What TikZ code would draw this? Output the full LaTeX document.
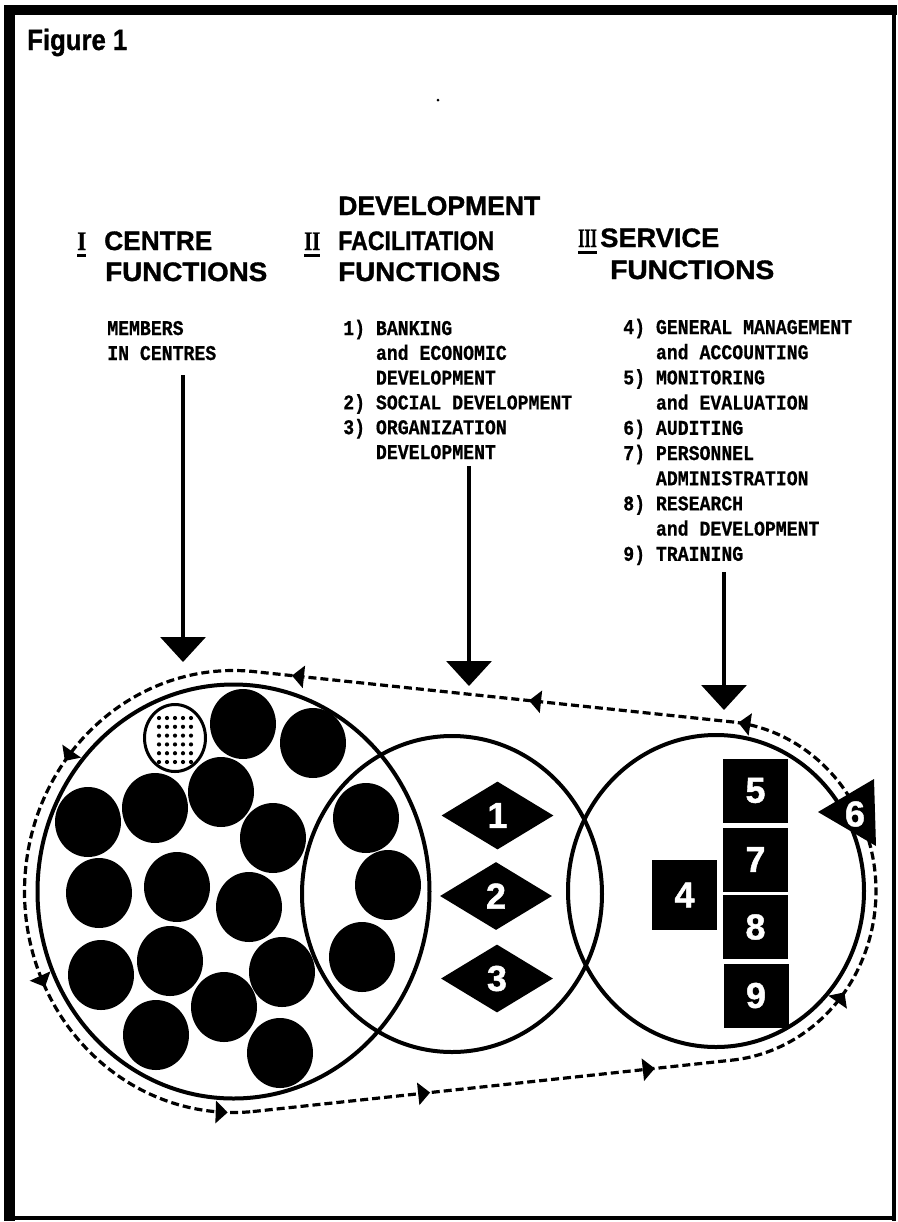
\documentclass[tikz,border=0pt]{standalone}
\usepackage{fontspec}
\usepackage{graphicx}
\setmainfont{Liberation Sans}
\newfontfamily\headfont{Liberation Sans Bold}[FakeBold=1.2]
\newfontfamily\typefont{Liberation Mono Bold}[FakeStretch=0.865,FakeBold=0.6]
\newfontfamily\romanfont{Liberation Serif Bold}[FakeBold=1]
\usetikzlibrary{shapes.geometric,arrows.meta,decorations.markings}

% set a line of text to a given width (horizontal scaling only)
\newsavebox\fitbox
\newcommand\fitwidth[2]{\sbox\fitbox{#2}\pgfmathsetmacro\fitratio{(#1)/(\the\wd\fitbox)}\scalebox{\fitratio}[1]{\usebox\fitbox}}
% underlined roman numeral of a given width
\newcommand\ulroman[2]{\sbox\fitbox{\fitwidth{#1}{#2}}\rlap{\raisebox{-5.2pt}{\rule{\wd\fitbox}{2.3pt}}}\usebox\fitbox}

\begin{document}
\begin{tikzpicture}[x=0.75pt,y=-0.75pt,
  title/.style={font=\headfont\fontsize{22}{26}\selectfont,anchor=base west,inner sep=0pt},
  head/.style={font=\headfont\fontsize{20}{24}\selectfont,anchor=base west,inner sep=0pt},
  roman/.style={font=\romanfont\fontsize{20}{24}\selectfont,anchor=base west,inner sep=0pt},
  listtext/.style={font=\typefont\fontsize{15.75}{18}\selectfont,anchor=base west,inner sep=0pt},
  ring/.style={draw,ellipse,line width=3pt,inner sep=0pt},
  member/.style={fill,ellipse,inner sep=0pt,minimum width=49.5pt,minimum height=52.5pt},
  task/.style={diamond,fill,text=white,inner sep=0pt,minimum width=84pt,minimum height=51pt,
    font=\headfont\fontsize{27}{30}\selectfont},
  duty/.style={rectangle,fill,text=white,inner sep=0pt,minimum width=48.75pt,minimum height=48pt,
    font=\headfont\fontsize{27}{30}\selectfont},
  feed/.style={line width=2.6pt,-{Triangle[width=33.75pt,length=18.75pt]}},
  loopline/.style={line width=2.4pt,dash pattern=on 6pt off 3pt},
  flowtip/.tip={Triangle[width=16.5pt,length=9pt]},
]
\useasboundingbox (0,0) rectangle (897,1222);

% frame
\fill (4,5) rectangle (897,15);
\fill (4,5) rectangle (15,1221);
\fill (892,5) rectangle (896,1221);
\fill (4,1216) rectangle (896,1220);

\node[title] (fig) at (27,50) {\fitwidth{75pt}{Figure 1}};
\fill (438,100) circle (1.5);

% column headings
\node[roman] (r1) at (77,250) {\ulroman{6.75pt}{I}};
\node[head] (h1a) at (104,250) {\fitwidth{81pt}{CENTRE}};
\node[head] (h1b) at (105,281) {\fitwidth{121.5pt}{FUNCTIONS}};

\node[roman] (r2) at (304,250) {\ulroman{12pt}{II}};
\node[head] (h2a) at (338,215) {\fitwidth{151.5pt}{DEVELOPMENT}};
\node[head] (h2b) at (338,250) {\fitwidth{117pt}{FACILITATION}};
\node[head] (h2c) at (338,281) {\fitwidth{121.5pt}{FUNCTIONS}};

\node[roman] (r3) at (578,247) {\ulroman{14pt}{III}};
\node[head] (h3a) at (600,247) {\fitwidth{89.25pt}{SERVICE}};
\node[head] (h3b) at (610,279) {\fitwidth{123pt}{FUNCTIONS}};

% function lists
\node[listtext] (c1l1) at (107,335) {MEMBERS};
\node[listtext] (c1l2) at (107,360) {IN CENTRES};

\foreach \t [count=\k] in {1) BANKING,\phantom{1) }and ECONOMIC,\phantom{1) }DEVELOPMENT,
    2) SOCIAL DEVELOPMENT,3) ORGANIZATION,\phantom{3) }DEVELOPMENT}
  \node[listtext] (c2l\k) at (343,{335+24.8*(\k-1)}) {\t};

\foreach \t [count=\k] in {4) GENERAL MANAGEMENT,\phantom{4) }and ACCOUNTING,5) MONITORING,
    \phantom{5) }and EVALUATION,6) AUDITING,7) PERSONNEL,\phantom{7) }ADMINISTRATION,
    8) RESEARCH,\phantom{8) }and DEVELOPMENT,9) TRAINING}
  \node[listtext] (c3l\k) at (623,{334+25.2*(\k-1)}) {\t};
\fill (803,408) circle (1.5);

% the three rings
\node[ring,minimum width=294pt,minimum height=310.5pt] (centreC) at (233.5,891.5) {};
\node[ring,minimum width=225pt,minimum height=237pt] (devC) at (452,894) {};
\node[ring,minimum width=222pt,minimum height=234pt] (servC) at (716,891) {};

% members in centres
\node[draw,ellipse,line width=2.25pt,inner sep=0pt,minimum width=45.75pt,minimum height=50.25pt] (lead) at (175,738) {};
\foreach \i in {0,...,4}
  \foreach \j in {0,...,5}
    \fill (159+8*\i,718+8.8*\j) circle (2.1);
\foreach \p [count=\k] in {(243,724),(313,743),(221,792),(155,808),(88,822),(273,838),
    (366,818),(388,885),(99,893),(177,887),(249,907),(362,957),(101,975),(170,961),
    (282,972),(224,1007),(156,1035),(280,1053)}
  \node[member] (m\k) at \p {};

% development facilitation functions
\node[task] (d1) at (497.5,815.5) {1};
\node[task] (d2) at (496,896) {2};
\node[task] (d3) at (497,978.5) {3};

% service functions
\node[duty] (s5) at (755.5,790.5) {5};
\node[duty] (s7) at (755.5,859.5) {7};
\node[duty] (s8) at (755.5,927) {8};
\node[duty] (s9) at (756,995.5) {9};
\node[duty,minimum height=52.5pt] (s4) at (684.5,895) {4};

% inputs into the rings
\coordinate (f1s) at (183,375);
\coordinate (f1e) at (183,662);
\coordinate (f2s) at (469,466);
\coordinate (f2e) at (469,686);
\coordinate (f3s) at (724,572);
\coordinate (f3e) at (724,710);
\draw[feed] (f1s) -- (f1e);
\draw[feed] (f2s) -- (f2e);
\draw[feed] (f3s) -- (f3e);

% auditing loop around the rings
\coordinate (lp0) at ([shift={(-33:160 and 170)}]servC.center);
\coordinate (lpA) at ([shift={(-83.5:160 and 170)}]servC.center);
\coordinate (lpB) at ([shift={(-83.5:209 and 221)}]centreC.center);
\coordinate (lpC) at ([shift={(84.7:209 and 221)}]centreC.center);
\coordinate (lpD) at ([shift={(84.7:160 and 170)}]servC.center);

\draw[loopline,postaction=decorate,decoration={markings,
    mark=at position 0.97 with {\arrow{flowtip}}}]
  (lp0) arc[start angle=-33,end angle=-83.5,x radius=160,y radius=170];
\draw[loopline,postaction=decorate,decoration={markings,
    mark=at position 0.43 with {\arrow{flowtip}},
    mark=at position 0.927 with {\arrow{flowtip}}}]
  (lpA) -- (lpB);
\draw[loopline,postaction=decorate,decoration={markings,
    mark=at position 0.31 with {\arrow{flowtip}},
    mark=at position 0.64 with {\arrow{flowtip}},
    mark=at position 0.965 with {\arrow{flowtip}}}]
  (lpB) arc[start angle=-83.5,end angle=-275.3,x radius=209,y radius=221];
\draw[loopline,postaction=decorate,decoration={markings,
    mark=at position 0.371 with {\arrow{flowtip}},
    mark=at position 0.841 with {\arrow{flowtip}}}]
  (lpC) -- (lpD);
\draw[loopline,postaction=decorate,decoration={markings,
    mark=at position 0.45 with {\arrow{flowtip}}}]
  (lpD) arc[start angle=84.7,end angle=-20,x radius=160,y radius=170];

% auditing marker
\fill (818,812) -- (874,779) -- (876,846) -- cycle;
\node[text=white,font=\headfont\fontsize{27}{30}\selectfont,inner sep=0pt] (s6) at (855,814) {6};
\end{tikzpicture}
\end{document}
